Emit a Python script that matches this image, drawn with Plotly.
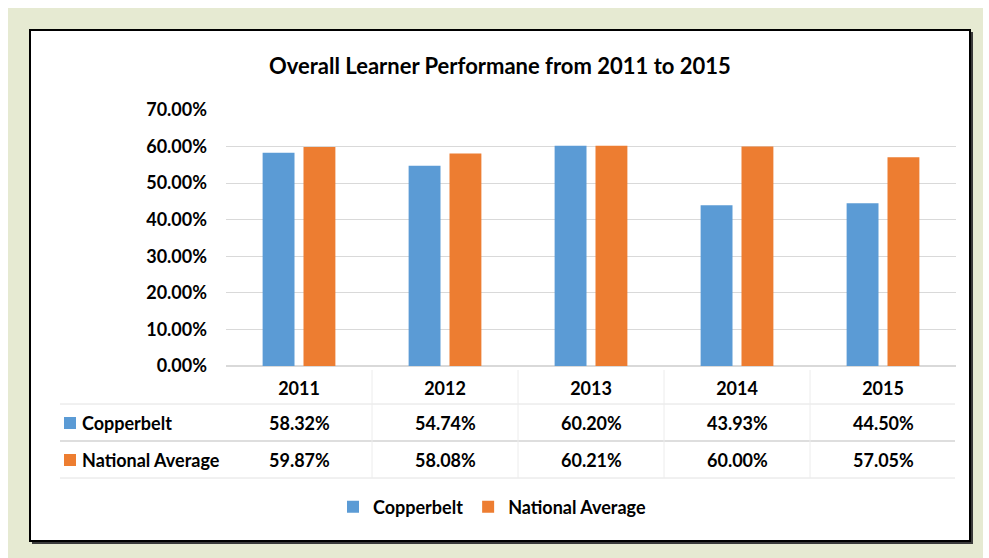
import plotly.graph_objects as go

years = ["2011", "2012", "2013", "2014", "2015"]
copperbelt = [58.32, 54.74, 60.20, 43.93, 44.50]
national = [59.87, 58.08, 60.21, 60.00, 57.05]
series_names = ["Copperbelt", "National Average"]
y_ticks = [0, 10, 20, 30, 40, 50, 60, 70]
y_tick_labels = [f"{v:.2f}%" for v in y_ticks]
title_text = "Overall Learner Performane from 2011 to 2015"

BLUE = "#5B9BD5"
ORANGE = "#ED7D31"
FONT = "Lato"

W, H = 989, 558
L, R, T, B = 226, 33, 110, 192
PW = W - L - R
PH = H - T - B


def px(xp):
    return (xp - L) / PW


def py(yp):
    return (H - B - yp) / PH


fig = go.Figure()
fig.add_trace(go.Bar(x=years, y=copperbelt, name=series_names[0], marker_color=BLUE,
                     marker_line_width=0))
fig.add_trace(go.Bar(x=years, y=national, name=series_names[1], marker_color=ORANGE,
                     marker_line_width=0))

shapes = []
# outer greenish frame
shapes.append(dict(type="rect", xref="paper", yref="paper", layer="below",
                   x0=px(8), x1=px(983), y0=py(8), y1=py(558),
                   fillcolor="#e6ead2", line_width=0))
# shadow
shapes.append(dict(type="rect", xref="paper", yref="paper", layer="below",
                   x0=px(32), x1=px(973), y0=py(32), y1=py(544),
                   fillcolor="#3a3a3a", line_width=0))
# inner white box
shapes.append(dict(type="rect", xref="paper", yref="paper", layer="below",
                   x0=px(30), x1=px(970), y0=py(30), y1=py(541),
                   fillcolor="white", line=dict(color="black", width=2)))
# table horizontal rules
for yy, col in [(404, "#e2e2e2"), (441, "#bdbdbd"), (478, "#e2e2e2")]:
    shapes.append(dict(type="line", xref="paper", yref="paper", layer="below",
                       x0=px(60), x1=px(955), y0=py(yy), y1=py(yy),
                       line=dict(color=col, width=1)))
# table vertical dividers
for xx in [372, 518, 664, 810]:
    shapes.append(dict(type="line", xref="paper", yref="paper", layer="below",
                       x0=px(xx), x1=px(xx), y0=py(370), y1=py(478),
                       line=dict(color="#ececec", width=1)))
# row markers
for yy, col in [(423, BLUE), (460, ORANGE)]:
    shapes.append(dict(type="rect", xref="paper", yref="paper",
                       x0=px(64), x1=px(76), y0=py(yy - 6), y1=py(yy + 6),
                       fillcolor=col, line_width=0))

annotations = []
annotations.append(dict(text=title_text, xref="paper", yref="paper",
                        x=px(500), y=py(65), showarrow=False,
                        font=dict(size=22, family=FONT, color="black", weight="bold"),
                        xanchor="center", yanchor="middle"))
for name, vals, yy in [(series_names[0], copperbelt, 423), (series_names[1], national, 460)]:
    annotations.append(dict(text=name, xref="paper", yref="paper", x=px(80), y=py(yy),
                            showarrow=False, xanchor="left", yanchor="middle",
                            font=dict(size=18, family=FONT, color="black", weight="bold")))
    for i, v in enumerate(vals):
        annotations.append(dict(text=f"{v:.2f}%", xref="x", yref="paper", x=i, y=py(yy),
                                showarrow=False, xanchor="center", yanchor="middle",
                                font=dict(size=18, family=FONT, color="black", weight="bold")))

fig.update_layout(
    width=W, height=H,
    margin=dict(l=L, r=R, t=T, b=B, pad=0),
    paper_bgcolor="white",
    plot_bgcolor="rgba(0,0,0,0)",
    barmode="group",
    bargap=0.44,
    bargroupgap=0.22,
    font=dict(family=FONT, size=18, color="black", weight="bold"),
    shapes=shapes,
    annotations=annotations,
    showlegend=True,
    legend=dict(orientation="h", xanchor="left", yanchor="middle",
                x=px(333), y=py(507), bgcolor="rgba(0,0,0,0)",
                font=dict(size=18, family=FONT, color="black", weight="bold"),
                itemwidth=30, tracegroupgap=0),
)
fig.update_yaxes(range=[0, 70], tickvals=y_ticks, ticktext=y_tick_labels,
                 showgrid=True, gridcolor="#d9d9d9", gridwidth=1,
                 zeroline=True, zerolinecolor="#d9d9d9", showline=False,
                 ticks="", ticklabelstandoff=18, fixedrange=True)
fig.update_xaxes(type="category", range=[-0.5, len(years) - 0.5],
                 showgrid=False, showline=False, ticks="",
                 ticklabelstandoff=10,
                 tickfont=dict(size=18, family=FONT, color="black", weight="bold"))

fig.write_html("out.html", config={"displayModeBar": False},
               post_script="document.body.style.margin='0';document.body.style.padding='0';")
